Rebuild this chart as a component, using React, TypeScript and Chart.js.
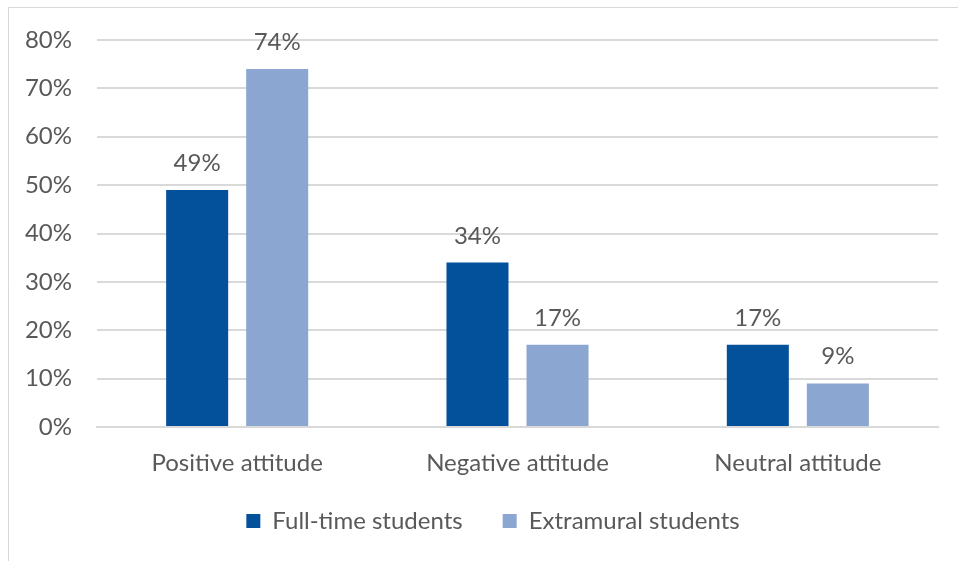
import React, { useEffect, useRef } from "react";
import { Chart, registerables } from "chart.js";

Chart.register(...registerables);

const categories = ["Positive attitude", "Negative attitude", "Neutral attitude"];
const fullTime = [49, 34, 17];
const extramural = [74, 17, 9];
const seriesNames = ["Full-time students", "Extramural students"];
const yTicksMax = 80;
const yStep = 10;

const FONT = "Lato, 'Open Sans', sans-serif";
const FS = 24;
const TEXT = "#595959";

const valueLabels = {
  id: "valueLabels",
  afterDatasetsDraw(chart: any) {
    const ctx = chart.ctx;
    ctx.save();
    ctx.font = `${FS}px ${FONT}`;
    ctx.fillStyle = TEXT;
    ctx.textAlign = "center";
    ctx.textBaseline = "alphabetic";
    chart.data.datasets.forEach((ds: any, i: number) => {
      const meta = chart.getDatasetMeta(i);
      meta.data.forEach((bar: any, j: number) => {
        ctx.fillText(ds.data[j] + "%", bar.x, bar.y - 19);
      });
    });
    ctx.restore();
  },
};

const frame = {
  id: "frame",
  beforeDraw(chart: any) {
    const ctx = chart.ctx;
    ctx.save();
    ctx.strokeStyle = "#d9d9d9";
    ctx.lineWidth = 1;
    ctx.beginPath();
    ctx.moveTo(8.5, chart.height);
    ctx.lineTo(8.5, 7.5);
    ctx.lineTo(chart.width, 7.5);
    ctx.stroke();
    ctx.restore();
  },
};

const legendPlace = {
  id: "legendPlace",
  afterLayout(chart: any) {
    const lg = chart.legend;
    if (!lg) return;
    const dy = 469 - lg.top;
    lg.top += dy;
    lg.bottom += dy;
    lg.left += 24;
    lg.right += 24;
  },
};

export default function App() {
  const ref = useRef<HTMLCanvasElement | null>(null);
  useEffect(() => {
    if (!ref.current) return;
    const chart = new Chart(ref.current, {
      type: "bar",
      data: {
        labels: categories,
        datasets: [
          {
            label: seriesNames[0],
            data: fullTime,
            backgroundColor: "#03519A",
            categoryPercentage: 0.571,
            barPercentage: 0.775,
          },
          {
            label: seriesNames[1],
            data: extramural,
            backgroundColor: "#8CA6D2",
            categoryPercentage: 0.571,
            barPercentage: 0.775,
          },
        ],
      },
      options: {
        animation: false,
        responsive: false,
        maintainAspectRatio: false,
        layout: { padding: { top: 40, right: 20, left: 0, bottom: 5 } },
        plugins: {
          tooltip: { enabled: false },
          legend: {
            position: "bottom",
            labels: {
              boxWidth: 14,
              boxHeight: 14,
              padding: 40,
              color: TEXT,
              font: { family: FONT, size: FS },
            },
          },
        },
        scales: {
          x: {
            grid: { display: false, drawTicks: false },
            border: { display: true, color: "#d9d9d9", width: 2 },
            ticks: { color: TEXT, font: { family: FONT, size: FS }, padding: 22 },
            afterFit(scale: any) {
              scale.height = 55;
            },
          },
          y: {
            min: 0,
            max: yTicksMax,
            grid: { color: "#d9d9d9", lineWidth: 2, drawTicks: false },
            border: { display: false },
            ticks: {
              stepSize: yStep,
              color: TEXT,
              padding: 25,
              font: { family: FONT, size: FS },
              callback: (v: any) => v + "%",
            },
            afterFit(scale: any) {
              scale.width = 97;
            },
          },
        },
      },
      plugins: [valueLabels, frame, legendPlace],
    } as any);
    return () => chart.destroy();
  }, []);
  return (
    <canvas
      ref={ref}
      width={958}
      height={561}
      style={{ position: "fixed", left: 0, top: 0, width: 958, height: 561, background: "#fff" }}
    />
  );
}
